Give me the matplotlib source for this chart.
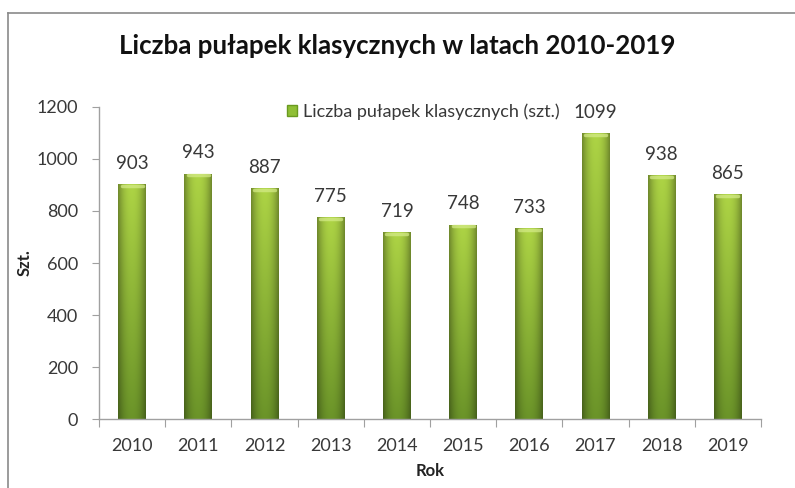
import matplotlib.pyplot as plt
import numpy as np
from matplotlib.lines import Line2D
from matplotlib.patches import Rectangle

years = ["2010", "2011", "2012", "2013", "2014", "2015", "2016", "2017", "2018", "2019"]
traps = [903, 943, 887, 775, 719, 748, 733, 1099, 938, 865]

plt.rcParams["font.family"] = ["Lato", "DejaVu Sans"]

fig = plt.figure(figsize=(7.95, 4.88), dpi=100)
ax = fig.add_axes([99 / 795, 69 / 488, 662 / 795, 312 / 488])

x = np.arange(len(years))
width = 0.42
ax.set_xlim(-0.5, len(years) - 0.5)
ax.set_ylim(0, 1200)


def bar_shading(n=64):
    # darker at the sides, lighter in the middle, a bit brighter toward the top
    h = np.linspace(-1, 1, n)
    v = np.linspace(0, 1, n)[:, None]
    side = 1 - 0.35 * np.abs(h) ** 2.2
    dark = np.array([0.42, 0.58, 0.16])
    light = np.array([0.68, 0.83, 0.27])
    base = dark + (light - dark) * v[..., None]
    return np.clip(base * side[None, :, None], 0, 1)


shade = bar_shading()
for xi, val in zip(x, traps):
    rect = Rectangle((xi - width / 2, 0), width, val, facecolor="none", edgecolor="none")
    ax.add_patch(rect)
    im = ax.imshow(shade, extent=(xi - width / 2, xi + width / 2, 0, val),
                   origin="lower", aspect="auto", interpolation="bilinear", zorder=2)
    im.set_clip_path(rect)
    # lighter rounded cap on top of each bar
    ax.plot([xi - width / 2 + 0.05, xi + width / 2 - 0.05], [val - 6, val - 6],
            color="#d6ec8a", lw=2.5, solid_capstyle="round", zorder=3, alpha=0.7)
    ax.annotate(str(val), (xi, val), xytext=(0, 9), textcoords="offset points",
                ha="center", va="bottom", fontsize=13.5, color="#383838")

ax.set_xticks(np.arange(-0.5, len(years), 1.0))
ax.set_xticklabels([])
ax.set_xticks(x, minor=True)
ax.set_xticklabels(years, minor=True, fontsize=13, color="#383838")
ax.tick_params(axis="x", which="major", length=6, color="#a0a0a0", direction="out")
ax.tick_params(axis="x", which="minor", length=0, pad=14)
ax.set_yticks(np.arange(0, 1201, 200))
ax.tick_params(axis="y", length=5, color="#a0a0a0", labelsize=13, labelcolor="#383838", pad=10)

for side in ("top", "right"):
    ax.spines[side].set_visible(False)
for side in ("left", "bottom"):
    ax.spines[side].set_color("#a0a0a0")
    ax.spines[side].set_linewidth(1)

ax.set_xlabel("Rok", fontsize=12, fontweight="bold", color="#222222", labelpad=6)
ax.set_ylabel("Szt.", fontsize=12, fontweight="bold", color="#222222", labelpad=3)

handle = Rectangle((0, 0), 1, 1, facecolor="#8fbf35", edgecolor="#6a9a20")
ax.legend([handle], ["Liczba pułapek klasycznych (szt.)"], loc="upper left",
          bbox_to_anchor=(0.26, 1.065), frameon=False, fontsize=13,
          handlelength=0.55, handleheight=0.55, handletextpad=0.3,
          labelcolor="#383838")

fig.text(0.5, 0.905, "Liczba pułapek klasycznych w latach 2010-2019",
         ha="center", va="center", fontsize=18.6, fontweight="bold", color="#111111")

# chart frame lines along the top and left edge
fig.add_artist(Line2D([8 / 795, 8 / 795], [0, 1 - 13 / 488], color="#8a8a8a", lw=1.2))
fig.add_artist(Line2D([8 / 795, 1], [1 - 13 / 488, 1 - 13 / 488], color="#8a8a8a", lw=1.2))

fig.savefig("out.png", dpi=100)
